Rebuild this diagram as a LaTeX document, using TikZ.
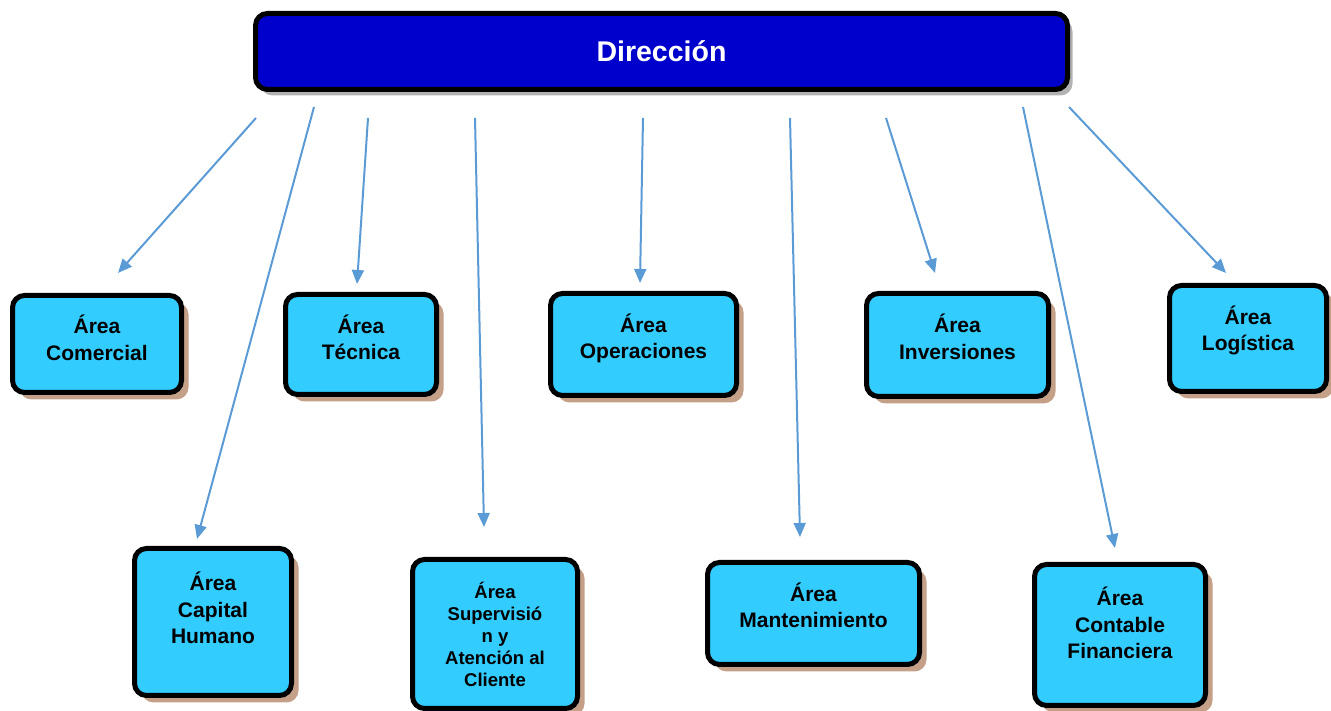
\documentclass[tikz,border=0pt]{standalone}
\usepackage{fontspec}
\setmainfont{Liberation Sans}
\usepackage{xcolor}
\usepackage{tikz}
\usetikzlibrary{shadows,arrows.meta}

\definecolor{azuldir}{RGB}{0,0,204}
\definecolor{celeste}{RGB}{51,204,255}
\definecolor{sombra}{RGB}{196,160,136}
\definecolor{flechaazul}{RGB}{91,155,213}

\begin{document}
\begin{tikzpicture}[x=1pt,y=1pt,
        area/.style={rectangle,rounded corners=12pt,draw=black,line width=5pt,fill=celeste,
          drop shadow={shadow xshift=7pt,shadow yshift=-7pt,opacity=1,fill=sombra}},
        texto/.style={align=center,font=\fontsize{21}{26.5}\selectfont\bfseries},
        textochico/.style={align=center,font=\fontsize{18.5}{22}\selectfont\bfseries},
        direccion/.style={rectangle,rounded corners=12pt,draw=black,line width=5pt,fill=azuldir,
          text=white,font=\fontsize{28.5}{34}\selectfont\bfseries,
          minimum width=812pt,minimum height=76pt,
          drop shadow={shadow xshift=5pt,shadow yshift=-6pt,opacity=1,fill=black!30}},
        flecha/.style={draw=flechaazul,line width=2pt,-{Triangle[length=14pt,width=12pt]}}]
        \useasboundingbox (0,0) rectangle (1331,711);

        \node at (661.5,659.5) [direccion] (dir) {Dirección};

        \node at (97,367) [area,minimum width=169pt,minimum height=97pt,
          label={[texto,yshift=6pt]center:{Área\\Comercial}}] (comercial) {};
        \node at (361,366.5) [area,minimum width=151pt,minimum height=100pt,
          label={[texto,yshift=7pt]center:{Área\\Técnica}}] (tecnica) {};
        \node at (643.5,366.5) [area,minimum width=186pt,minimum height=102pt,
          label={[texto,yshift=6pt]center:{Área\\Operaciones}}] (operaciones) {};
        \node at (957.5,366) [area,minimum width=182pt,minimum height=103pt,
          label={[texto,yshift=8pt]center:{Área\\Inversiones}}] (inversiones) {};
        \node at (1248,372.5) [area,minimum width=157pt,minimum height=106pt,
          label={[texto,yshift=8pt]center:{Área\\Logística}}] (logistica) {};

        \node at (213,89) [area,minimum width=157pt,minimum height=147pt,
          label={[texto,yshift=14pt]center:{Área\\Capital\\Humano}}] (capital) {};
        \node at (495,77) [area,minimum width=165pt,minimum height=149pt,
          label={[textochico]center:{Área\\Supervisió\\n y\\Atención al\\Cliente}}] (supervision) {};
        \node at (813.5,97.5) [area,minimum width=212pt,minimum height=102pt,
          label={[texto,yshift=8pt]center:{Área\\Mantenimiento}}] (mantenimiento) {};
        \node at (1120,76) [area,minimum width=171pt,minimum height=141pt,
          label={[texto,yshift=12pt]center:{Área\\Contable\\Financiera}}] (contable) {};

        \draw[flecha] ([shift={(3,-26)}]dir.south west) -- ([shift={(21,20)}]comercial.north);
        \draw[flecha] ([shift={(61,-15)}]dir.south west) -- ([shift={(-16,7)}]capital.north);
        \draw[flecha] ([shift={(115,-26)}]dir.south west) -- ([shift={(-4,8)}]tecnica.north);
        \draw[flecha] ([shift={(222,-26)}]dir.south west) -- ([shift={(-11,30)}]supervision.north);
        \draw[flecha] ([shift={(390,-26)}]dir.south west) -- ([shift={(-3.5,8)}]operaciones.north);
        \draw[flecha] ([shift={(537,-26)}]dir.south west) -- ([shift={(-13.5,23)}]mantenimiento.north);
        \draw[flecha] ([shift={(633,-26)}]dir.south west) -- ([shift={(-22.5,18)}]inversiones.north);
        \draw[flecha] ([shift={(770,-15)}]dir.south west) -- ([shift={(-5,14)}]contable.north);
        \draw[flecha] ([shift={(816,-15)}]dir.south west) -- ([shift={(-22,10)}]logistica.north);
\end{tikzpicture}
\end{document}
